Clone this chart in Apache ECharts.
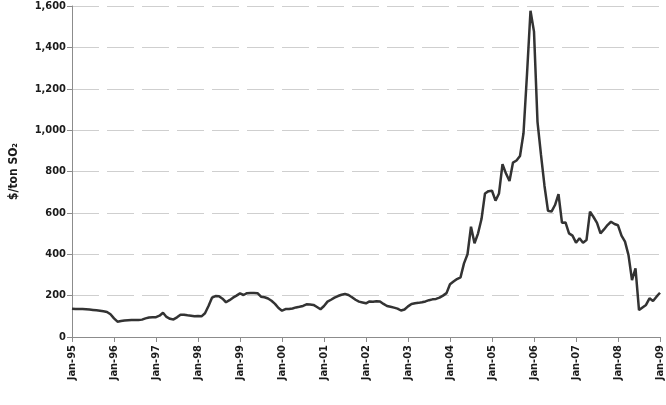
<!DOCTYPE html>
<html>
<head>
<meta charset="utf-8">
<script src="https://cdn.jsdelivr.net/npm/echarts@6/dist/echarts.min.js"></script>
<style>
  html, body { margin: 0; padding: 0; background: #fff; }
  #chart { width: 666px; height: 405px; }
</style>
</head>
<body>
<div id="chart"></div>
<script>
// monthly SO2 allowance price, $/ton, Jan-95 .. Jan-09
const p1995 = [137, 135, 135, 135, 134, 133, 131, 129, 127, 124, 121, 110]
const p1996 = [90, 74, 77, 80, 81, 82, 82, 82, 84, 90, 94, 95]
const p1997 = [96, 103, 117, 97, 88, 85, 95, 108, 108, 105, 103, 100]
const p1998 = [101, 100, 115, 150, 190, 198, 197, 185, 168, 178, 190, 200]
const p1999 = [211, 203, 212, 213, 213, 212, 195, 192, 186, 175, 160, 140]
const p2000 = [127, 135, 135, 138, 143, 146, 150, 158, 157, 155, 145, 134]
const p2001 = [150, 171, 180, 190, 198, 204, 208, 203, 192, 180, 171, 167]
const p2002 = [163, 172, 170, 173, 172, 160, 150, 146, 142, 137, 128, 133]
const p2003 = [148, 160, 163, 165, 168, 172, 178, 182, 184, 190, 200, 212]
const p2004 = [255, 268, 280, 288, 356, 400, 533, 453, 500, 570, 694, 705]
const p2005 = [707, 659, 694, 835, 790, 754, 843, 853, 875, 985, 1270, 1577]
const p2006 = [1476, 1040, 880, 730, 610, 606, 638, 691, 552, 554, 501, 490]
const p2007 = [456, 477, 456, 469, 606, 580, 552, 501, 520, 541, 557, 546]
const p2008 = [540, 490, 461, 396, 275, 332, 130, 143, 155, 187, 174, 195]
const p2009 = [214]

const prices = [].concat(p1995, p1996, p1997, p1998, p1999, p2000, p2001,
  p2002, p2003, p2004, p2005, p2006, p2007, p2008, p2009)

const monthNames = ['Jan', 'Feb', 'Mar', 'Apr', 'May', 'Jun', 'Jul', 'Aug', 'Sep', 'Oct', 'Nov', 'Dec']
const yearLabels = ['95', '96', '97', '98', '99', '00', '01', '02', '03', '04', '05', '06', '07', '08', '09']

const months = []
yearLabels.forEach((yy) => {
  monthNames.forEach((m) => months.push(m + '-' + yy))
})
months.length = prices.length

const font = 'DejaVu Sans Condensed'
const myChart = echarts.init(document.getElementById('chart'))

myChart.setOption({
  animation: false,
  grid: { left: 70, right: 6, top: 6, bottom: 68 },
  xAxis: {
    type: 'category',
    data: months,
    boundaryGap: false,
    axisLine: { lineStyle: { color: '#8c8c8c', width: 1 } },
    axisTick: { interval: 11, length: 5, lineStyle: { color: '#8c8c8c' } },
    axisLabel: {
      interval: 11,
      rotate: 90,
      margin: 8,
      fontFamily: font,
      fontWeight: 'bold',
      fontSize: 11,
      color: '#1a1a1a'
    },
    splitLine: { show: false }
  },
  yAxis: {
    type: 'value',
    min: 0,
    max: 1600,
    interval: 200,
    name: '$/ton SO₂',
    nameLocation: 'middle',
    nameGap: 52,
    nameTextStyle: {
      fontFamily: font,
      fontWeight: 'bold',
      fontSize: 12,
      color: '#1a1a1a'
    },
    axisLine: { show: true, lineStyle: { color: '#8c8c8c', width: 1 } },
    axisTick: { show: true, length: 5, lineStyle: { color: '#8c8c8c' } },
    axisLabel: {
      margin: 6,
      fontFamily: font,
      fontWeight: 'bold',
      fontSize: 11,
      color: '#1a1a1a',
      formatter: (v) => v.toLocaleString('en-US')
    },
    splitLine: {
      lineStyle: { color: '#cfcfcf', width: 1, type: [27, 8] }
    }
  },
  series: [
    {
      type: 'line',
      data: prices,
      showSymbol: false,
      lineStyle: { color: '#333333', width: 2.5 }
    }
  ]
})
</script>
</body>
</html>
